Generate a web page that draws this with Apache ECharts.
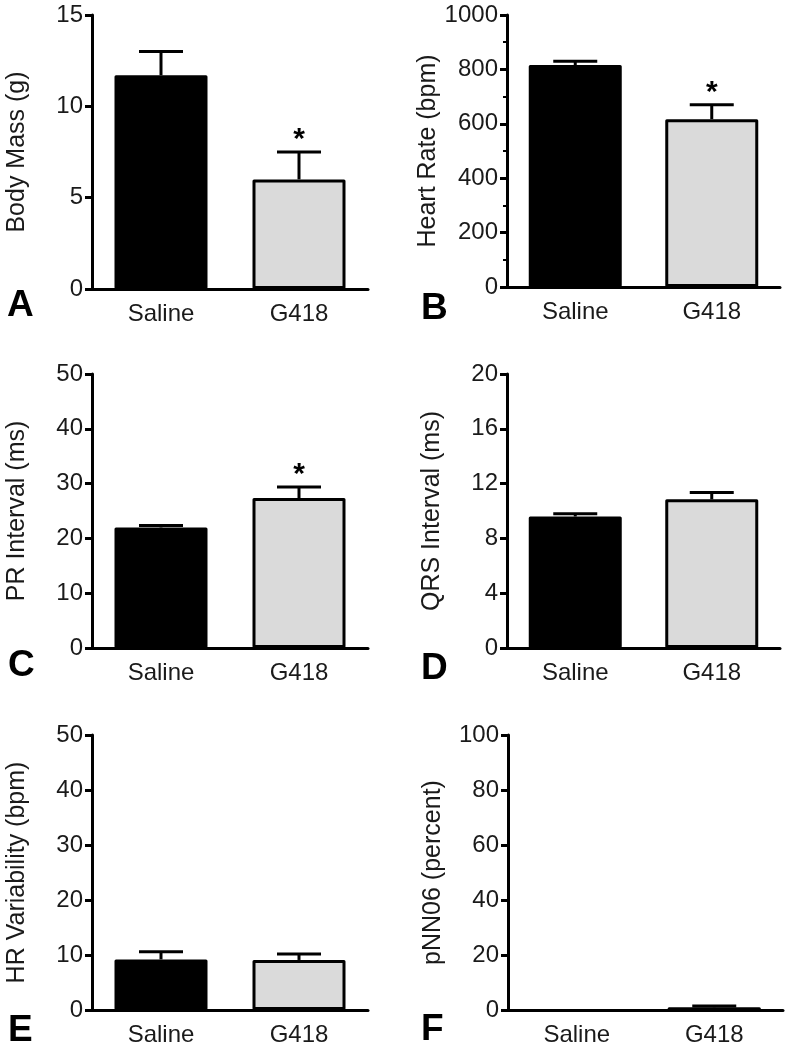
<!DOCTYPE html>
<html>
<head>
<meta charset="utf-8">
<script src="https://cdn.jsdelivr.net/npm/echarts@6/dist/echarts.min.js"></script>
<style>
html,body{margin:0;padding:0;background:#fff;}
#chart{width:789px;height:1050px;}
</style>
</head>
<body>
<div id="chart"></div>
<script>
// ---- data ----
const categories = ['Saline', 'G418'];

const bodyMass = [11.7, 6.0];
const bodyMassErr = [1.3, 1.5];
const heartRate = [816, 617];
const heartRateErr = [14, 53];
const prInterval = [22.0, 27.35];
const prIntervalErr = [0.35, 2.05];
const qrsInterval = [9.6, 10.85];
const qrsIntervalErr = [0.2, 0.5];
const hrVariability = [9.2, 9.1];
const hrVariabilityErr = [1.4, 1.1];
const pnn06 = [0, 1.0];
const pnn06Err = [0, 0.5];

const yNames = ['Body Mass (g)', 'Heart Rate (bpm)', 'PR Interval (ms)', 'QRS Interval (ms)', 'HR Variability (bpm)', 'pNN06 (percent)'];
const yMax = [15, 1000, 50, 20, 50, 100];
const yInterval = [5, 200, 10, 4, 10, 20];
const panelLetters = ['A', 'B', 'C', 'D', 'E', 'F'];
const significant = [[false, true], [false, true], [false, true], [false, false], [false, false], [false, false]];

const values = [bodyMass, heartRate, prInterval, qrsInterval, hrVariability, pnn06];
const errors = [bodyMassErr, heartRateErr, prIntervalErr, qrsIntervalErr, hrVariabilityErr, pnn06Err];

// ---- layout ----
const grids = [
  {left: 92, top: 15, width: 276, height: 274},
  {left: 507, top: 15, width: 273, height: 272},
  {left: 92, top: 374, width: 276, height: 274},
  {left: 507, top: 374, width: 273, height: 274},
  {left: 92, top: 735, width: 276, height: 275},
  {left: 508, top: 735, width: 275, height: 275}
];
const letterPos = [[7, 305], [421, 308], [8, 665], [421, 668], [8, 1030], [421, 1029]];

const FONT = '"Liberation Sans", Arial, Helvetica, sans-serif';
const barColors = ['#000000', '#dadada'];

const xAxes = [], yAxes = [], series = [], graphics = [];
for (let i = 0; i < 6; i++) {
  xAxes.push({
    type: 'category', gridIndex: i, data: categories,
    axisLine: {lineStyle: {color: '#000', width: 3}},
    axisTick: {show: false},
    axisLabel: {color: '#1a1a1a', fontSize: 24, fontFamily: FONT, margin: 13}
  });
  yAxes.push({
    type: 'value', gridIndex: i, min: 0, max: yMax[i], interval: yInterval[i],
    name: yNames[i], nameLocation: 'middle', nameGap: 62,
    nameTextStyle: {color: '#1a1a1a', fontSize: 25, fontFamily: FONT},
    axisLine: {show: true, lineStyle: {color: '#000', width: 3}},
    axisTick: {show: true, length: 7, lineStyle: {color: '#000', width: 3}},
    minorTick: {show: i === 1, splitNumber: 2, length: 4, lineStyle: {color: '#000', width: 2}},
    splitLine: {show: false},
    axisLabel: {color: '#1a1a1a', fontSize: 24, fontFamily: FONT, margin: 9,
      formatter: function (v) { return String(v); }}
  });
  series.push({
    type: 'bar', xAxisIndex: i, yAxisIndex: i, barWidth: 93,
    data: values[i].map((v, k) => ({
      value: v,
      itemStyle: {color: barColors[k], borderColor: '#000', borderWidth: v > 0 ? 3 : 0, borderJoin: 'round'}
    })),
    z: 2, animation: false
  });
  series.push({
    type: 'custom', xAxisIndex: i, yAxisIndex: i, z: 3, animation: false,
    data: values[i].map((v, k) => [k, v, errors[i][k], significant[i][k] ? 1 : 0]),
    renderItem: function (params, api) {
      const k = api.value(0), v = api.value(1), e = api.value(2), sig = api.value(3);
      const children = [];
      const p0 = api.coord([k, v]);
      const p1 = api.coord([k, v + e]);
      if (e > 0) {
        children.push({type: 'line', shape: {x1: p0[0], y1: p0[1], x2: p1[0], y2: p1[1]},
          style: {stroke: '#000', lineWidth: 3}});
        children.push({type: 'line', shape: {x1: p1[0] - 22, y1: p1[1], x2: p1[0] + 22, y2: p1[1]},
          style: {stroke: '#000', lineWidth: 3}});
      }
      if (sig) {
        children.push({type: 'text', style: {text: '*', x: p1[0], y: p1[1] - 12,
          fill: '#000', fontSize: 30, fontWeight: 'bold', fontFamily: FONT,
          textAlign: 'center', textVerticalAlign: 'middle'}});
      }
      return {type: 'group', children: children};
    }
  });
  graphics.push({
    type: 'text', left: letterPos[i][0], top: letterPos[i][1] - 18,
    style: {text: panelLetters[i], fontSize: 37, fontWeight: 'bold', fontFamily: FONT, fill: '#000'}
  });
}

const chart = echarts.init(document.getElementById('chart'), null, {renderer: 'canvas'});
chart.setOption({
  animation: false,
  backgroundColor: '#fff',
  grid: grids,
  xAxis: xAxes,
  yAxis: yAxes,
  series: series,
  graphic: graphics
});
</script>
</body>
</html>
